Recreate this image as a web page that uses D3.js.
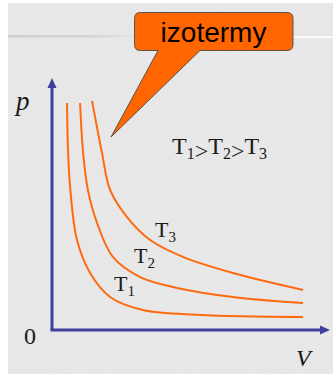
<!DOCTYPE html>
<html>
<head>
<meta charset="utf-8">
<script src="https://cdn.jsdelivr.net/npm/d3@7"></script>
<style>
  html, body { margin: 0; padding: 0; background: #fff; }
  svg { display: block; }
</style>
</head>
<body>
<svg width="333" height="374"></svg>
<script>
// isotherm curves (V, p in 0..100 axis units)
const t1V = [5.4, 5.8, 6.6, 9.0, 13.7, 20.9, 32.7, 53.2, 90.3]
const t1P = [90.1, 70.2, 55.6, 35.7, 22.6, 13.1, 7.9, 6.0, 5.2]
const t2V = [10.1, 11.2, 12.9, 16.2, 21.9, 31.7, 45.0, 65.1, 90.3]
const t2P = [90.1, 70.2, 55.6, 42.5, 29.0, 21.0, 16.7, 13.1, 10.7]
const t3V = [14.4, 18.0, 20.9, 27.0, 35.3, 47.1, 65.1, 90.3]
const t3P = [90.9, 70.2, 55.6, 44.8, 35.7, 29.0, 22.6, 15.9]
const curveNames = ['1', '2', '3']

const svg = d3.select('svg')
const width = 333
const height = 374

// background: textured grey slide
const defs = svg.append('defs')
const noise = defs.append('filter').attr('id', 'grain')
  .attr('x', 0).attr('y', 0).attr('width', '100%').attr('height', '100%')
noise.append('feTurbulence').attr('type', 'fractalNoise')
  .attr('baseFrequency', 0.9).attr('numOctaves', 2).attr('seed', 3)
noise.append('feColorMatrix').attr('type', 'matrix')
  .attr('values', '0 0 0 0 0.55  0 0 0 0 0.55  0 0 0 0 0.55  0 0 0 0.18 0')
noise.append('feComposite').attr('in2', 'SourceGraphic').attr('operator', 'in')

const grad = defs.append('linearGradient').attr('id', 'fadeLine')
grad.append('stop').attr('offset', '0%').attr('stop-color', '#cfcfcf')
grad.append('stop').attr('offset', '70%').attr('stop-color', '#d6d6d6')
grad.append('stop').attr('offset', '100%').attr('stop-color', '#e6e6e6')

svg.append('rect').attr('x', 8).attr('y', 3)
  .attr('width', width - 8).attr('height', height - 3).attr('fill', '#ebebeb')
svg.append('rect').attr('x', 8).attr('y', 3)
  .attr('width', width - 8).attr('height', height - 3).attr('fill', '#ebebeb')
  .attr('filter', 'url(#grain)')
svg.append('rect').attr('x', 8).attr('y', 35)
  .attr('width', 130).attr('height', 2.5).attr('fill', 'url(#fadeLine)')
svg.append('rect').attr('x', 293).attr('y', 36)
  .attr('width', 40).attr('height', 2).attr('fill', '#fafafa')

// scales
const x = d3.scaleLinear().domain([0, 100]).range([52, 330])
const y = d3.scaleLinear().domain([0, 100]).range([330, 78])

// isotherms
const line = d3.line()
  .x((d) => x(d[0]))
  .y((d) => y(d[1]))
  .curve(d3.curveCatmullRom.alpha(0.5))

const curves = [
  d3.zip(t1V, t1P),
  d3.zip(t2V, t2P),
  d3.zip(t3V, t3P),
]

svg.selectAll('path.iso')
  .data(curves)
  .join('path')
  .attr('class', 'iso')
  .attr('d', line)
  .attr('fill', 'none')
  .attr('stroke', '#ff6a10')
  .attr('stroke-width', 2)

// axes with arrow heads
const axisColor = '#3f3f9f'
svg.append('line')
  .attr('x1', x(0)).attr('y1', y(0))
  .attr('x2', x(0)).attr('y2', y(100) + 7)
  .attr('stroke', axisColor).attr('stroke-width', 3)
svg.append('line')
  .attr('x1', x(0) - 1.5).attr('y1', y(0))
  .attr('x2', x(100) - 7).attr('y2', y(0))
  .attr('stroke', axisColor).attr('stroke-width', 3)
svg.append('path')
  .attr('d', `M${x(0)},${y(100)} l-4.5,10 l9,0 Z`)
  .attr('fill', axisColor)
svg.append('path')
  .attr('d', `M${x(100)},${y(0)} l-10,-4.5 l0,9 Z`)
  .attr('fill', axisColor)

const serif = "'Liberation Serif', 'Times New Roman', serif"

// axis letters
svg.append('text').attr('x', 16).attr('y', 110)
  .attr('font-family', serif).attr('font-style', 'italic')
  .attr('font-size', 27).attr('fill', '#1a1a1a').text('p')
svg.append('text').attr('x', 296).attr('y', 366)
  .attr('font-family', serif).attr('font-style', 'italic')
  .attr('font-size', 24).attr('fill', '#1a1a1a').text('V')
svg.append('text').attr('x', 24).attr('y', 344)
  .attr('font-family', serif)
  .attr('font-size', 24).attr('fill', '#1a1a1a').text('0')

// T labels on the curves
const labelPos = [[114, 291], [134, 263], [155, 237]]
curveNames.forEach((n, i) => {
  const t = svg.append('text')
    .attr('x', labelPos[i][0]).attr('y', labelPos[i][1])
    .attr('font-family', serif).attr('font-size', 22).attr('fill', '#1a1a1a')
  t.append('tspan').text('T')
  t.append('tspan').attr('font-size', 15).attr('dy', 5).text(n)
})

// T1>T2>T3
const rel = svg.append('text').attr('x', 172).attr('y', 154)
  .attr('font-family', serif).attr('font-size', 24).attr('fill', '#1a1a1a')
curveNames.forEach((n, i) => {
  rel.append('tspan').attr('dy', i === 0 ? 0 : -5).text('T')
  rel.append('tspan').attr('font-size', 16).attr('dy', 5).text(n)
  if (i < 2) rel.append('tspan').attr('dy', 0).text('>')
})

// callout
svg.append('path')
  .attr('d', 'M140.5,12.5 H287 Q293,12.5 293,18.5 V44.5 Q293,50.5 287,50.5 H200 ' +
    'L111,137 L158,50.5 H140.5 Q134.5,50.5 134.5,44.5 V18.5 Q134.5,12.5 140.5,12.5 Z')
  .attr('fill', '#ff6600')
  .attr('stroke', '#4a4a4a')
  .attr('stroke-width', 0.9)
svg.append('text').attr('x', 213.5).attr('y', 42)
  .attr('text-anchor', 'middle')
  .attr('font-family', "'Liberation Sans', Arial, sans-serif")
  .attr('font-size', 28).attr('fill', '#000').text('izotermy')
</script>
</body>
</html>
